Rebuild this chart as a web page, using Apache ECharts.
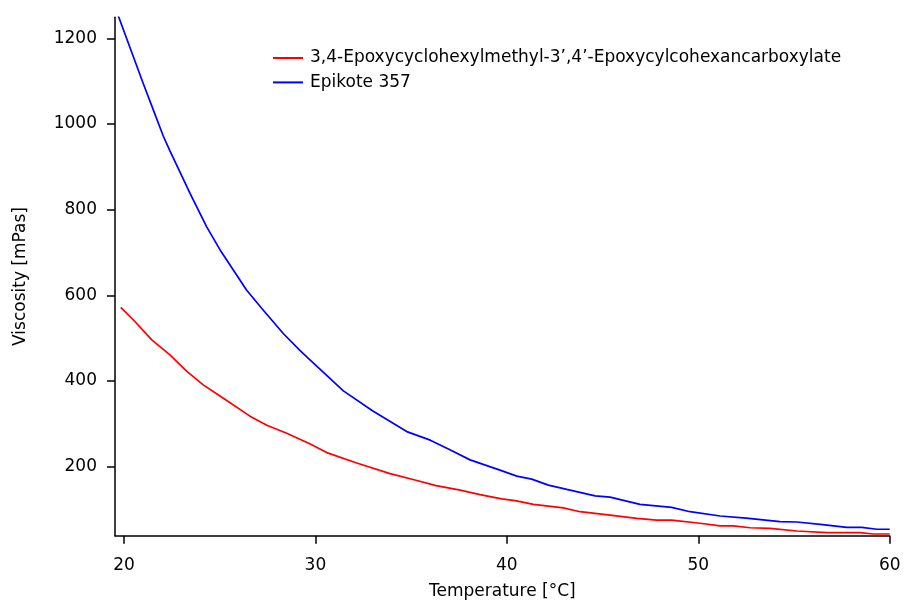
<!DOCTYPE html>
<html><head><meta charset="utf-8">
<script src="https://cdn.jsdelivr.net/npm/echarts@6/dist/echarts.min.js"></script>
<style>html,body{margin:0;padding:0;background:#fff}#c{width:904px;height:603px}</style>
</head><body><div id="c"></div>
<script>
var redName = "3,4-Epoxycyclohexylmethyl-3\u2019,4\u2019-Epoxycylcohexancarboxylate";
var blueName = "Epikote 357";
var xTicks = [20, 30, 40, 50, 60];
var yTicks = [200, 400, 600, 800, 1000, 1200];
var redT = [19.83, 20.57, 21.45, 22.40, 23.27, 24.14, 25.19, 26.58, 27.46, 28.50, 29.73, 30.59, 32.2, 33.90, 35.2, 36.3, 37.5, 38.60, 39.73, 40.43, 41.39, 42.95, 43.82, 45.39, 46.79, 47.83, 48.61, 50.09, 51.14, 51.83, 52.71, 53.75, 55.15, 56.72, 58.45, 59.15, 60.0];
var redV = [572, 539, 496, 461, 423, 391, 360, 318, 297, 278, 253, 233, 208, 184, 169, 156, 146, 135, 125, 121, 112, 104, 95, 87, 79.5, 75.5, 75.5, 68, 62, 62, 57.6, 56, 50, 46, 46, 43, 43];
var blueT = [19.68, 20.49, 21.0, 21.53, 22.05, 22.40, 23.45, 24.32, 25.02, 26.41, 27.19, 28.32, 29.20, 29.73, 31.46, 33.0, 34.77, 36.0, 37.0, 38.08, 39.64, 40.52, 41.30, 42.17, 43.13, 44.61, 45.39, 46.96, 48.61, 49.57, 51.14, 52.5, 54.27, 55.15, 56.5, 57.76, 58.54, 59.33, 60.0];
var blueV = [1255, 1157, 1095, 1033, 972, 937, 838, 760, 706, 612, 570, 511, 471, 449, 377, 330, 282, 262, 240, 216, 192, 178, 171, 157, 147, 132, 129, 112, 105, 95, 85, 80, 72, 71, 65, 58.5, 58.5, 54, 54];

function pairs(t, v) { return t.map(function (x, i) { return [x, v[i]]; }); }
var FONT = "DejaVu Sans";
var FS = 17;
var chart = echarts.init(document.getElementById('c'), null, {renderer: 'canvas'});
chart.setOption({
  animation: false,
  backgroundColor: '#ffffff',
  textStyle: {fontFamily: FONT, color: '#000'},
  grid: {left: 115, right: 14.3, top: 17.3, bottom: 67.3, containLabel: false, outerBoundsMode: 'none'},
  legend: {
    orient: 'vertical', left: 268, top: 43,
    itemWidth: 30, itemHeight: 2, itemGap: 4.4,
    icon: 'rect',
    textStyle: {fontFamily: FONT, fontSize: FS, color: '#000', lineHeight: 20, padding: [0, 0, 0, 2]},
    data: [{name: redName}, {name: blueName}]
  },
  xAxis: {
    type: 'value', min: 19.53, max: 60,
    name: 'Temperature [\u00b0C]', nameLocation: 'middle', nameGap: 47,
    nameTextStyle: {fontFamily: FONT, fontSize: FS, color: '#000'},
    axisLine: {show: true, onZero: false, lineStyle: {color: '#000', width: 1.5}},
    axisTick: {show: true, length: 8, lineStyle: {color: '#000', width: 1.5}, customValues: xTicks},
    axisLabel: {fontFamily: FONT, fontSize: FS, color: '#000', margin: 21, customValues: xTicks,
      formatter: function (v) { return String(v); }},
    splitLine: {show: false}
  },
  yAxis: {
    type: 'value', min: 39, max: 1249,
    name: 'Viscosity [mPas]', nameLocation: 'middle', nameGap: 86,
    nameTextStyle: {fontFamily: FONT, fontSize: FS, color: '#000'},
    axisLine: {show: true, onZero: false, lineStyle: {color: '#000', width: 1.5}},
    axisTick: {show: true, length: 8, lineStyle: {color: '#000', width: 1.5}, customValues: yTicks},
    axisLabel: {fontFamily: FONT, fontSize: FS, color: '#000', margin: 18, customValues: yTicks,
      formatter: function (v) { return String(v); }},
    splitLine: {show: false}
  },
  series: [
    {name: redName, type: 'line', data: pairs(redT, redV), showSymbol: false, symbol: 'none',
     lineStyle: {color: '#ff0000', width: 1.7}, itemStyle: {color: '#ff0000'}, clip: true},
    {name: blueName, type: 'line', data: pairs(blueT, blueV), showSymbol: false, symbol: 'none',
     lineStyle: {color: '#0000ff', width: 1.7}, itemStyle: {color: '#0000ff'}, clip: true}
  ]
});
</script></body></html>
